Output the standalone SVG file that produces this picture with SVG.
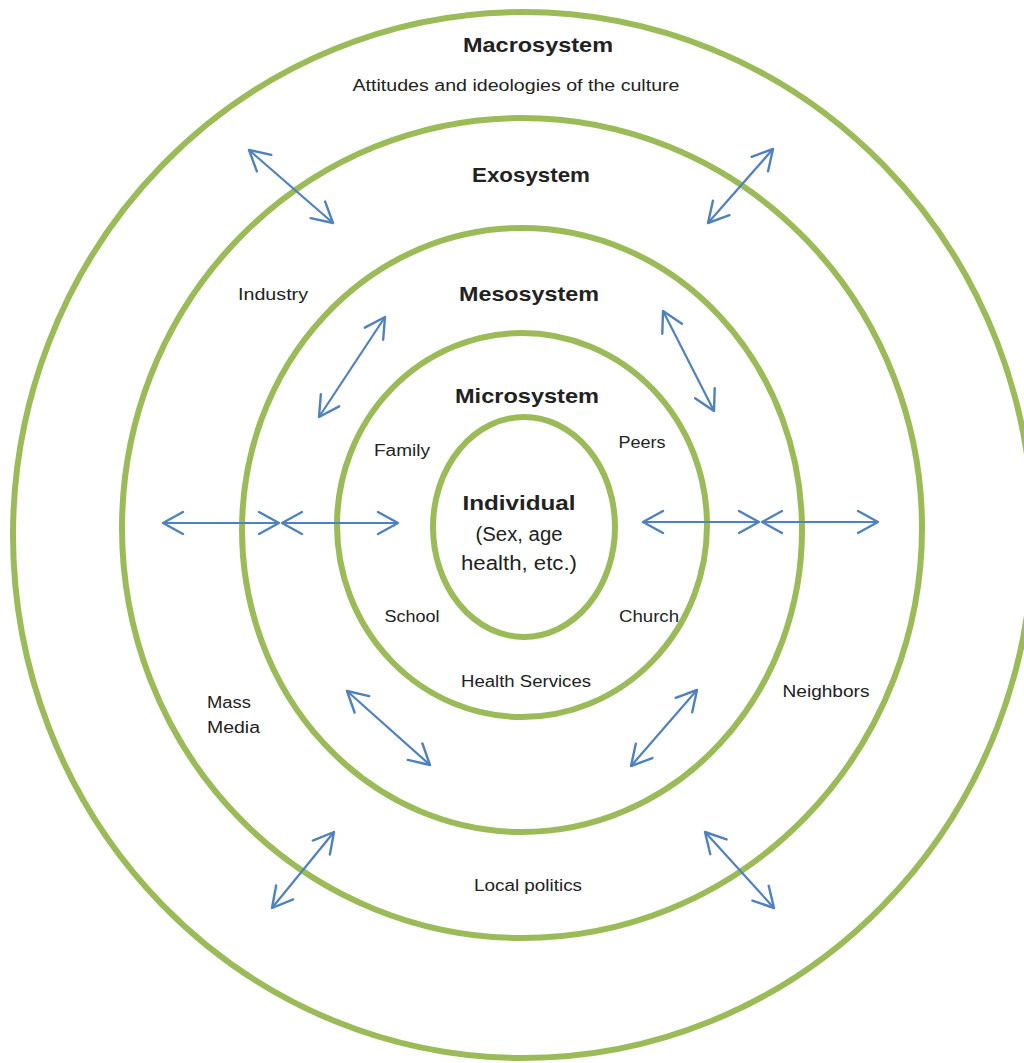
<svg xmlns="http://www.w3.org/2000/svg" width="1024" height="1063" viewBox="0 0 1024 1063">
<defs>
<style>
.ring{fill:none;stroke:#9bbb59;stroke-width:6}
.arr{fill:none;stroke:#4f81bd;stroke-width:2.2;marker-start:url(#ah);marker-end:url(#ah)}
text{font-family:"Liberation Sans","Open Sans",Arial,sans-serif;fill:#222;text-anchor:middle}
.t{font-size:16px}
.b{font-size:21px;font-weight:bold}
.ind{font-size:20px}
.l{text-anchor:start}
</style>
<marker id="ah" markerUnits="userSpaceOnUse" markerWidth="30" markerHeight="30" refX="0" refY="0" viewBox="-24 -15 30 30" orient="auto-start-reverse" overflow="visible">
<path d="M-20,-11 L0,0 L-20,11" fill="none" stroke="#4f81bd" stroke-width="2.4" stroke-linecap="round" stroke-linejoin="round"/>
</marker>
</defs>
<rect width="1024" height="1063" fill="#fff"/>
<g id="macrosystem"><ellipse class="ring" cx="523" cy="535" rx="510" ry="523"/></g>
<g id="exosystem"><ellipse class="ring" cx="522" cy="528" rx="400" ry="410"/></g>
<g id="mesosystem"><ellipse class="ring" cx="522" cy="530" rx="280" ry="302"/></g>
<g id="microsystem"><ellipse class="ring" cx="522" cy="525" rx="185" ry="192"/></g>
<g id="individual"><ellipse class="ring" cx="524" cy="527" rx="91" ry="110"/></g>
<g id="connectors">
<line class="arr" x1="249" y1="150" x2="333" y2="223"/>
<line class="arr" x1="773" y1="149" x2="708" y2="223"/>
<line class="arr" x1="385" y1="317" x2="319" y2="417"/>
<line class="arr" x1="663" y1="311" x2="714" y2="411"/>
<line class="arr" x1="163" y1="523" x2="279" y2="523"/>
<line class="arr" x1="282" y1="523" x2="398" y2="523"/>
<line class="arr" x1="643" y1="522" x2="759" y2="522"/>
<line class="arr" x1="762" y1="522" x2="878" y2="522"/>
<line class="arr" x1="347" y1="691" x2="430" y2="765"/>
<line class="arr" x1="697" y1="690" x2="631" y2="766"/>
<line class="arr" x1="334" y1="832" x2="272" y2="908"/>
<line class="arr" x1="705" y1="832" x2="774" y2="908"/>
</g>
<g id="labels">
<text class="b" x="538" y="52" textLength="150" lengthAdjust="spacingAndGlyphs">Macrosystem</text>
<text class="t" x="516" y="91" textLength="327" lengthAdjust="spacingAndGlyphs">Attitudes and ideologies of the culture</text>
<text class="b" x="531" y="182" textLength="118" lengthAdjust="spacingAndGlyphs">Exosystem</text>
<text class="t" x="273" y="300" textLength="70" lengthAdjust="spacingAndGlyphs">Industry</text>
<text class="b" x="529" y="301" textLength="140" lengthAdjust="spacingAndGlyphs">Mesosystem</text>
<text class="b" x="527" y="403" textLength="144" lengthAdjust="spacingAndGlyphs">Microsystem</text>
<text class="t" x="402" y="456" textLength="56" lengthAdjust="spacingAndGlyphs">Family</text>
<text class="t" x="642" y="448" textLength="47" lengthAdjust="spacingAndGlyphs">Peers</text>
<text class="b" x="519" y="510" textLength="113" lengthAdjust="spacingAndGlyphs">Individual</text>
<text class="ind" x="519" y="541" textLength="87" lengthAdjust="spacingAndGlyphs">(Sex, age</text>
<text class="ind" x="519" y="570" textLength="116" lengthAdjust="spacingAndGlyphs">health, etc.)</text>
<text class="t" x="412" y="622" textLength="55" lengthAdjust="spacingAndGlyphs">School</text>
<text class="t" x="649" y="622" textLength="60" lengthAdjust="spacingAndGlyphs">Church</text>
<text class="t" x="526" y="687" textLength="130" lengthAdjust="spacingAndGlyphs">Health Services</text>
<text class="t l" x="207" y="708" textLength="44" lengthAdjust="spacingAndGlyphs">Mass</text>
<text class="t l" x="207" y="733" textLength="53" lengthAdjust="spacingAndGlyphs">Media</text>
<text class="t" x="826" y="697" textLength="87" lengthAdjust="spacingAndGlyphs">Neighbors</text>
<text class="t" x="528" y="891" textLength="108" lengthAdjust="spacingAndGlyphs">Local politics</text>
</g>
</svg>
